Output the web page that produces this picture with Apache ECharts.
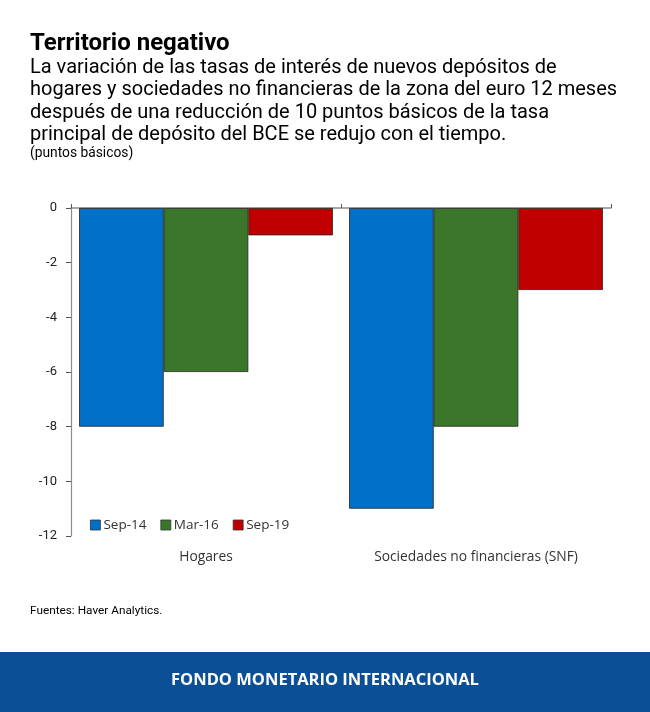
<!DOCTYPE html>
<html>
<head>
<meta charset="utf-8">
<script src="https://cdn.jsdelivr.net/npm/echarts@6/dist/echarts.min.js"></script>
<style>
  html, body { margin: 0; padding: 0; background: #fff; }
  #chart { width: 650px; height: 712px; }
</style>
</head>
<body>
<div id="chart"></div>
<script>
// datos
const categories = ['Hogares', 'Sociedades no financieras (SNF)'];
const seriesNames = ['Sep-14', 'Mar-16', 'Sep-19'];
const sep14 = [-8, -11];
const mar16 = [-6, -8];
const sep19 = [-1, -3];
const colors = ['#0070C8', '#3A772A', '#C00000'];

const chart = echarts.init(document.getElementById('chart'));
const values = [sep14, mar16, sep19];

const option = {
    animation: false,
    backgroundColor: '#fff',
    title: [
        {
            text: 'Territorio negativo',
            left: 30,
            top: 32,
            padding: 0,
            textStyle: { fontFamily: 'Roboto', fontSize: 24, fontWeight: 'bold', color: '#000' }
        },
        {
            text: 'La variación de las tasas de interés de nuevos depósitos de\nhogares y sociedades no financieras de la zona del euro 12 meses\ndespués de una reducción de 10 puntos básicos de la tasa\nprincipal de depósito del BCE se redujo con el tiempo.',
            left: 30,
            top: 57,
            padding: 0,
            textStyle: { fontFamily: 'Roboto', fontSize: 20, fontWeight: 'normal', color: '#000', lineHeight: 22.3 }
        },
        {
            text: '(puntos básicos)',
            left: 30,
            top: 147,
            padding: 0,
            textStyle: { fontFamily: 'Roboto', fontSize: 13.8, fontWeight: 'normal', color: '#000' }
        },
        {
            text: 'Fuentes: Haver Analytics.',
            left: 30,
            top: 605,
            padding: 0,
            textStyle: { fontFamily: 'Roboto', fontSize: 11.8, fontWeight: 'normal', color: '#000' }
        }
    ],
    graphic: [
        {
            type: 'rect',
            left: 0,
            top: 652,
            shape: { width: 650, height: 60 },
            style: { fill: '#0B4F96' },
            z: 0
        },
        {
            type: 'text',
            left: 'center',
            top: 672,
            style: {
                text: 'FONDO MONETARIO INTERNACIONAL',
                fill: '#fff',
                font: 'bold 16.5px "Open Sans"'
            },
            z: 1
        }
    ],
    legend: {
        left: 85,
        top: 513,
        itemWidth: 10,
        itemHeight: 10,
        itemGap: 14,
        icon: 'rect',
        data: seriesNames,
        itemStyle: { borderColor: '#333', borderWidth: 0.8 },
        textStyle: { fontFamily: 'Open Sans', fontSize: 13.5, color: '#333', padding: [0, 0, 0, -2] }
    },
    grid: {
        left: 71,
        right: 39,
        top: 208,
        bottom: 176
    },
    xAxis: [
        {
            type: 'category',
            position: 'top',
            data: categories,
            axisLine: { show: true, lineStyle: { color: '#8c8c8c', width: 1.5 } },
            axisTick: { show: true, inside: false, length: 4, lineStyle: { color: '#555' } },
            axisLabel: { show: false }
        },
        {
            type: 'category',
            position: 'bottom',
            data: categories,
            axisLine: { show: false },
            axisTick: { show: false },
            axisLabel: { fontFamily: 'Open Sans', fontSize: 13.8, color: '#333', margin: 14 }
        }
    ],
    yAxis: {
        type: 'value',
        min: -12,
        max: 0,
        interval: 2,
        splitLine: { show: false },
        axisLine: { show: true, lineStyle: { color: '#8c8c8c', width: 1.2 } },
        axisTick: { show: true, length: 5, lineStyle: { color: '#555' } },
        axisLabel: { fontFamily: 'Roboto', fontSize: 13, color: '#222', margin: 14 }
    },
    series: seriesNames.map((name, i) => ({
        name: name,
        type: 'bar',
        xAxisIndex: 0,
        data: values[i],
        barGap: '0%',
        barCategoryGap: '6%',
        itemStyle: { color: colors[i], borderColor: '#222', borderWidth: 0.8 }
    }))
};
chart.setOption(option);
</script>
</body>
</html>
